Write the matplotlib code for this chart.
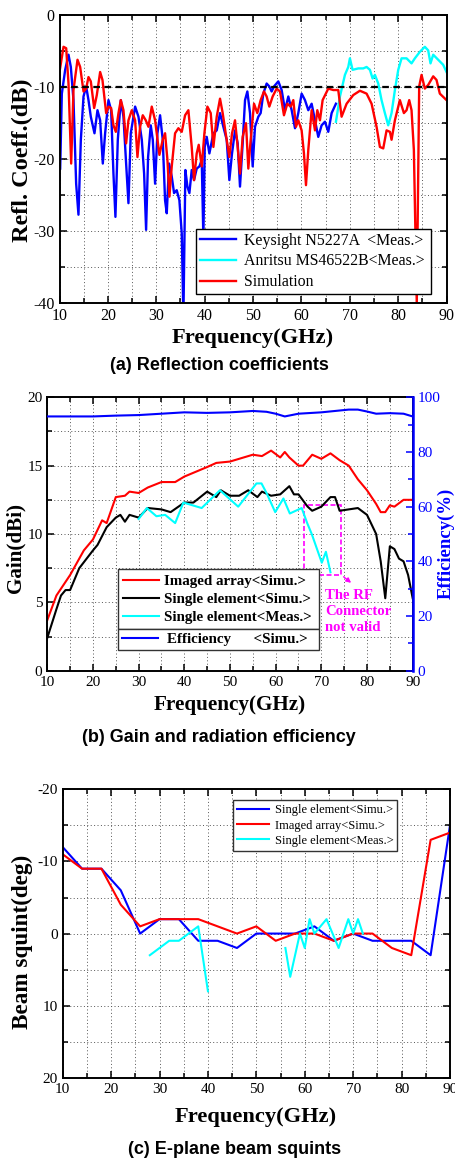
import numpy as np
import matplotlib
matplotlib.use("Agg")
import matplotlib.pyplot as plt
from matplotlib.ticker import MultipleLocator
from matplotlib.patches import Rectangle

plt.rcParams['font.family'] = ['Liberation Serif', 'DejaVu Serif']
plt.rcParams['axes.unicode_minus'] = False

# ---------------- (a) reflection coefficients ----------------
keysight_f = [10.14, 10.48, 11.17, 11.86, 12.34, 12.89, 13.44, 13.92, 14.41, 14.96,
              15.51, 15.99, 16.47, 17.23, 17.85, 18.40, 18.95, 19.43, 20.12, 20.67,
              21.15, 21.56, 22.05, 22.67, 23.22, 23.77, 24.25, 24.73, 25.63, 26.32,
              27.01, 27.49, 27.90, 28.31, 28.86, 29.28, 29.76, 30.24, 30.79, 31.34,
              31.82, 32.17, 32.65, 33.20, 33.68, 34.23, 34.78, 35.27, 35.61, 36.02,
              36.44, 36.85, 37.33, 37.81, 38.36, 38.92, 39.40, 39.74, 40.02, 40.43,
              40.98, 41.81, 42.50, 43.18, 43.87, 44.56, 45.11, 45.66, 46.28, 46.83,
              47.31, 47.86, 48.35, 48.83, 49.38, 49.93, 50.41, 51.10, 51.58, 52.13,
              52.82, 53.37, 53.85, 54.34, 55.23, 55.92, 56.61, 57.30, 57.99, 58.68,
              59.36, 60.05, 60.74, 61.43, 62.12, 62.81, 63.49, 64.18, 64.87, 65.56,
              66.25, 67.14]
keysight_db = [-21.3, -10.9, -7.6, -5.5, -7.2, -11.8, -23.4, -27.7, -17.3, -11.3,
               -9.9, -11.8, -14.1, -16.4, -13.2, -14.6, -20.6, -16.4, -11.8, -13.2,
               -22.0, -28.0, -17.3, -11.8, -14.1, -20.6, -26.1, -16.4, -12.7, -14.1,
               -17.3, -22.0, -29.8, -19.7, -15.3, -17.3, -23.4, -16.4, -13.9, -17.3,
               -25.7, -27.5, -20.6, -22.4, -24.7, -24.3, -25.7, -30.3, -42.0, -21.5,
               -23.8, -24.7, -21.5, -22.9, -21.3, -21.0, -20.1, -31.0, -18.3, -16.9,
               -19.2, -16.4, -16.0, -13.6, -15.5, -17.3, -22.9, -19.2, -16.0, -17.8,
               -23.8, -17.8, -11.8, -10.6, -13.6, -21.0, -15.5, -14.1, -13.6, -10.9,
               -9.5, -9.9, -10.6, -9.9, -9.2, -10.4, -13.2, -11.3, -13.2, -15.7,
               -13.6, -10.9, -11.8, -13.2, -12.3, -14.6, -16.9, -15.3, -14.8, -16.2,
               -13.6, -12.3]

anritsu_f = [67.14, 67.97, 69.00, 69.69, 70.03, 70.58, 71.76, 72.79, 73.48, 74.17,
             74.72, 75.20, 75.89, 76.57, 77.26, 77.95, 78.64, 79.33, 80.02, 80.71,
             81.74, 82.77, 83.46, 84.49, 85.52, 86.21, 86.69, 87.25, 88.28, 89.31, 90.0]
anritsu_db = [-14.8, -11.3, -8.3, -7.2, -6.0, -7.6, -7.4, -7.4, -7.2, -7.6,
              -8.8, -8.3, -9.5, -11.8, -13.6, -15.3, -13.6, -10.4, -7.6, -6.0,
              -6.0, -6.7, -6.0, -5.1, -4.4, -4.9, -6.7, -5.5, -6.2, -6.9, -7.9]

sim_f = [10.0, 10.83, 11.38, 11.86, 12.41, 12.89, 13.72, 14.27, 14.96, 15.51,
         15.99, 16.47, 17.16, 17.71, 18.40, 18.88, 19.64, 20.12, 20.67, 21.15,
         21.64, 22.19, 22.67, 23.22, 23.77, 24.25, 24.94, 25.63, 26.11, 26.66,
         27.21, 27.83, 28.38, 29.07, 29.76, 30.65, 31.34, 31.82, 32.31, 32.72,
         33.20, 33.89, 34.58, 35.27, 35.96, 36.64, 37.33, 37.81, 38.36, 38.78,
         39.40, 39.95, 40.57, 41.26, 41.81, 42.50, 43.18, 43.73, 44.35, 45.11,
         45.66, 46.28, 46.76, 47.31, 47.86, 48.55, 49.03, 49.52, 50.21, 50.89,
         51.58, 52.27, 52.82, 53.37, 54.06, 54.89, 55.58, 56.40, 57.09, 57.78,
         58.33, 58.88, 59.36, 60.05, 60.53, 60.95, 61.43, 62.12, 62.81, 63.29,
         63.84, 64.39, 65.56, 66.59, 67.62, 68.31, 69.35, 70.72, 72.10, 73.48,
         74.51, 75.54, 76.23, 76.92, 77.61, 78.30, 78.64, 79.33, 80.36, 81.19,
         81.74, 82.29, 82.77, 83.25, 83.85, 84.35, 84.84, 85.52, 86.21, 87.25,
         87.93, 88.62, 90.0]
sim_db = [-7.9, -4.4, -4.6, -9.5, -20.6, -10.4, -6.2, -7.2, -10.6, -10.2,
          -8.6, -9.2, -12.9, -11.1, -7.9, -9.0, -13.6, -12.7, -12.9, -15.3,
          -16.2, -13.6, -11.8, -13.2, -17.8, -14.6, -13.2, -14.6, -19.7, -15.5,
          -13.9, -14.6, -15.5, -12.7, -14.6, -19.4, -17.3, -16.4, -20.1, -25.2,
          -21.0, -16.4, -15.7, -16.2, -13.9, -13.2, -18.3, -22.9, -19.2, -18.0,
          -21.0, -16.4, -12.7, -13.6, -18.3, -14.1, -11.6, -13.6, -16.4, -19.7,
          -16.4, -14.6, -17.8, -22.0, -16.9, -15.0, -21.3, -17.3, -12.3, -13.6,
          -11.8, -10.6, -11.3, -12.7, -11.3, -10.2, -10.6, -13.9, -12.3, -12.7,
          -11.8, -15.5, -14.6, -16.0, -19.2, -23.6, -18.7, -13.2, -16.0, -13.2,
          -14.6, -11.8, -10.2, -10.4, -10.4, -14.1, -12.3, -11.1, -10.5, -10.9,
          -12.3, -15.5, -18.3, -18.5, -16.0, -16.2, -17.3, -14.6, -11.8, -13.6,
          -13.2, -11.8, -13.2, -18.7, -40.0, -9.9, -8.3, -10.2, -9.7, -8.5,
          -9.0, -10.9, -11.8]

# ---------------- (b) gain and efficiency ----------------
array_f = [10, 12, 15, 18, 20, 22, 23, 25, 27, 28, 30, 32, 35, 38, 40, 45, 47, 50, 53, 55,
           57, 59, 61, 62, 63, 65, 66, 68, 70, 72, 74, 76, 78, 80, 82, 83, 84, 85, 86, 88, 90]
array_gain = [3.7, 5.5, 7.0, 8.8, 9.6, 11.0, 10.8, 12.7, 12.8, 13.1, 13.0, 13.4, 13.8, 13.8,
              14.2, 14.9, 15.2, 15.3, 15.6, 15.8, 15.7, 16.1, 15.6, 16.0, 15.6, 15.0, 15.0,
              15.8, 15.5, 15.9, 15.4, 15.0, 14.0, 13.2, 12.2, 11.6, 11.6, 12.1, 12.0, 12.5, 12.5]

single_f = [10, 12, 13, 14, 15, 17, 20, 21, 23, 25, 26, 27, 28, 30, 32, 35, 37, 40, 42, 45,
            47, 48, 50, 52, 54, 56, 57, 59, 61, 63, 64, 65, 67, 68, 70, 72, 73, 74, 76, 78,
            80, 82, 83, 84, 85, 86, 87, 88, 89, 90]
single_gain = [2.4, 4.5, 5.5, 5.9, 5.9, 7.5, 8.8, 9.2, 10.5, 11.2, 11.4, 10.9, 11.4, 11.2,
               11.9, 11.8, 11.6, 12.3, 12.3, 13.1, 12.7, 13.2, 12.8, 12.8, 13.2, 12.7, 13.1,
               12.8, 12.9, 13.5, 12.9, 12.9, 12.0, 11.7, 12.0, 12.7, 12.7, 11.7, 11.8, 11.9,
               11.4, 10.0, 8.0, 5.3, 9.1, 8.9, 8.2, 8.0, 7.0, 5.3]

meas_f = [30, 31.8, 33.9, 35.8, 38, 39.8, 41.8, 43.8, 47.8, 51.8, 55.8, 56.9, 58, 59.9,
          61.7, 63.1, 65.7, 66.9, 67.9, 70.1, 71.0, 72.0]
meas_gain = [11.1, 11.9, 11.3, 11.4, 10.8, 12.3, 12.1, 11.9, 13.2, 12.0, 13.7, 13.7, 13.0,
             11.6, 12.6, 11.5, 11.9, 10.8, 10.0, 7.9, 8.7, 7.2]

eff_f = [10, 12, 15, 20, 25, 30, 35, 40, 45, 50, 55, 58, 60, 62, 65, 70, 73, 76, 78, 80,
         82, 85, 88, 90]
eff = [93, 93, 93, 93, 93.3, 93.5, 94, 94.5, 94.3, 94.5, 95, 94.7, 94, 93, 94, 94.5, 95,
       95.5, 95.5, 94.8, 94, 94.2, 94, 93]

# ---------------- (c) beam squint ----------------
squint_f = [10, 14, 18, 22, 26, 30, 34, 38, 42, 46, 50, 54, 58, 62, 66, 70, 74, 78, 82, 86, 90]
squint_single = [-12, -9, -9, -6, 0, -2, -2, 1, 1, 2, 0, 0, 0, -1, 1, 0, 1, 1, 1, 3, -15]
squint_array = [-11, -9, -9, -4, -1, -2, -2, -2, -1, 0, -1, 1, 0, 0, 1, 0, 0, 2, 3, -13, -14]
squint_meas_f = [28, 30, 32, 34, 38, 40, np.nan, 56, 57, 59, 60, 61, 62, 64.5, 67, 69, 70, 71, 72]
squint_meas = [3, 2, 1, 1, -1, 8, np.nan, 2, 6, 0, 2, -2, 0, -2, 2, -2, 0, -2, 0]

BLUE = '#0000ff'
RED = '#ff0000'
CYAN = '#00ffff'
MAG = '#ff00ff'

label_font = {'family': 'Liberation Serif', 'weight': 'bold'}
cap_font = {'family': 'Liberation Sans', 'weight': 'bold', 'size': 13}


def style(ax, fs, xminor, yminor):
    ax.xaxis.set_major_locator(MultipleLocator(10))
    ax.xaxis.set_minor_locator(MultipleLocator(xminor))
    ax.yaxis.set_minor_locator(MultipleLocator(yminor))
    ax.tick_params(which='both', direction='in', top=True, labelsize=fs, width=1.1)
    ax.tick_params(which='major', length=5)
    ax.tick_params(which='minor', length=3.5)
    ax.grid(True, which='both', linestyle=(0, (1, 2.5)), color='#555555', linewidth=0.7)
    ax.set_axisbelow(True)
    for s in ax.spines.values():
        s.set_linewidth(1.4)


fig = plt.figure(figsize=(4.56, 11.6), dpi=100)

# (a)
ax1 = fig.add_axes([0.1305, 0.7385, 0.8487, 0.2485])
ax1.plot(keysight_f, keysight_db, color=BLUE, lw=1.7, label='Keysight N5227A  <Meas.>')
ax1.plot(anritsu_f, anritsu_db, color=CYAN, lw=1.7, label='Anritsu MS46522B<Meas.>')
ax1.plot(sim_f, sim_db, color=RED, lw=1.7, label='Simulation')
ax1.axhline(-10, color='black', lw=1.6, dashes=(3, 2))
ax1.set_xlim(10, 90)
ax1.set_ylim(-40, 0)
ax1.yaxis.set_major_locator(MultipleLocator(10))
style(ax1, 11.5, 5, 5)
ax1.tick_params(right=True, which='both')
leg = ax1.legend(loc='lower left', bbox_to_anchor=(0.353, 0.032, 0.607, 0.222), mode='expand',
                 fontsize=11.4, fancybox=False, edgecolor='black', framealpha=1,
                 handlelength=2.3, handletextpad=0.5, labelspacing=0.3, borderaxespad=0,
                 borderpad=0.25)
leg.get_frame().set_linewidth(1.0)
fig.text(253 / 456, 1 - 338 / 1160, 'Frequency(GHz)', fontsize=16.2, ha='center', va='center', **label_font)
fig.text(22 / 456, 1 - 160 / 1160, 'Refl. Coeff.(dB)', fontsize=17.5, rotation=90,
         ha='center', va='center', **label_font)
fig.text(219 / 456, 1 - 366 / 1160, '(a) Reflection coefficients', ha='center', va='center', **cap_font)

# (b)
ax2 = fig.add_axes([0.1037, 0.4218, 0.8013, 0.2357])
ax2r = ax2.twinx()
l1, = ax2.plot(array_f, array_gain, color=RED, lw=1.5)
l2, = ax2.plot(single_f, single_gain, color='black', lw=1.5)
l3, = ax2.plot(meas_f, meas_gain, color=CYAN, lw=1.5)
l4, = ax2r.plot(eff_f, eff, color=BLUE, lw=1.5)
ax2.set_xlim(10, 90)
ax2.set_ylim(0, 20)
ax2.yaxis.set_major_locator(MultipleLocator(5))
style(ax2, 11, 5, 2.5)
ax2.tick_params(which='both', right=False)
ax2r.set_ylim(0, 100)
ax2r.yaxis.set_major_locator(MultipleLocator(20))
ax2r.yaxis.set_minor_locator(MultipleLocator(10))
ax2r.tick_params(which='both', direction='in', colors=BLUE, labelsize=11, width=1.1)
ax2r.tick_params(which='major', length=5)
ax2r.tick_params(which='minor', length=3.5)
ax2r.spines['right'].set_color(BLUE)
ax2r.spines['right'].set_linewidth(1.8)
for s in ['left', 'top', 'bottom']:
    ax2r.spines[s].set_visible(False)

ax2.add_patch(Rectangle((66.2, 7.0), 8.2, 5.1, fill=False, ec=MAG, lw=1.2, ls=(0, (3, 1.5))))
ax2.annotate('', xy=(77.0, 6.3), xytext=(74.4, 7.0),
             arrowprops=dict(arrowstyle='-|>', color=MAG, lw=1.0, mutation_scale=7))
ax2.text(70.9, 4.3, 'The RF\nConnector\nnot valid', color=MAG, fontsize=10.6, ha='left',
         va='center', linespacing=1.3, **label_font)

leg_prop = {'family': 'Liberation Serif', 'weight': 'bold', 'size': 10.8}
leg1 = ax2r.legend([l1, l2, l3], ['Imaged array<Simu.>', 'Single element<Simu.>', 'Single element<Meas.>'],
                   loc='lower left', bbox_to_anchor=(0.1935, 0.1525, 0.55, 0.22), mode='expand',
                   prop=leg_prop, fancybox=False, edgecolor='#333333', framealpha=1,
                   handlelength=2.4, handletextpad=0.3, labelspacing=0.3, borderaxespad=0,
                   borderpad=0.35)
leg1.get_frame().set_linewidth(1.0)
ax2r.add_artist(leg1)
leg2 = ax2r.legend([l4], ['Efficiency      <Simu.>'],
                   loc='upper left', bbox_to_anchor=(0.1935, 0.061, 0.55, 0.0915), mode='expand',
                   prop=leg_prop, fancybox=False, edgecolor='#333333', framealpha=1,
                   handlelength=2.4, handletextpad=0.6, borderaxespad=0, borderpad=0.25)
leg2.get_frame().set_linewidth(1.0)

fig.text(230 / 456, 1 - 705 / 1160, 'Frequency(GHz)', fontsize=15.2, ha='center', va='center', **label_font)
fig.text(15 / 456, 1 - 548 / 1160, 'Gain(dBi)', fontsize=15.2, rotation=90, ha='center', va='center', **label_font)
fig.text(446 / 456, 1 - 543 / 1160, 'Efficiency(%)', fontsize=13.5, rotation=90, color=BLUE,
         ha='center', va='center', **label_font)
fig.text(219 / 456, 1 - 737 / 1160, '(b) Gain and radiation efficiency', ha='center', va='center', **cap_font)

# (c)
ax3 = fig.add_axes([0.1375, 0.0709, 0.8493, 0.2486])
ax3.plot(squint_f, squint_single, color=BLUE, lw=1.5, label='Single element<Simu.>')
ax3.plot(squint_f, squint_array, color=RED, lw=1.5, label='Imaged array<Simu.>')
ax3.plot(squint_meas_f, squint_meas, color=CYAN, lw=1.5, label='Single element<Meas.>')
ax3.set_xlim(10, 90)
ax3.set_ylim(20, -20)
ax3.yaxis.set_major_locator(MultipleLocator(10))
style(ax3, 11, 5, 5)
ax3.tick_params(right=True, which='both')
leg3 = ax3.legend(loc='upper left', bbox_to_anchor=(0.4397, 0.786, 0.4233, 0.177), mode='expand',
                  fontsize=9.0, fancybox=False, edgecolor='#333333', framealpha=1,
                  handlelength=2.5, handletextpad=0.5, labelspacing=0.25, borderaxespad=0,
                  borderpad=0.35)
leg3.get_frame().set_linewidth(1.0)
fig.text(256 / 456, 1 - 1117 / 1160, 'Frequency(GHz)', fontsize=16.2, ha='center', va='center', **label_font)
fig.text(22 / 456, 1 - 942 / 1160, 'Beam squint(deg)', fontsize=16.7, rotation=90,
         ha='center', va='center', **label_font)
fig.text(235 / 456, 1 - 1149 / 1160, '(c) E-plane beam squints', ha='center', va='center', **cap_font)

fig.savefig('out.png', dpi=100)
